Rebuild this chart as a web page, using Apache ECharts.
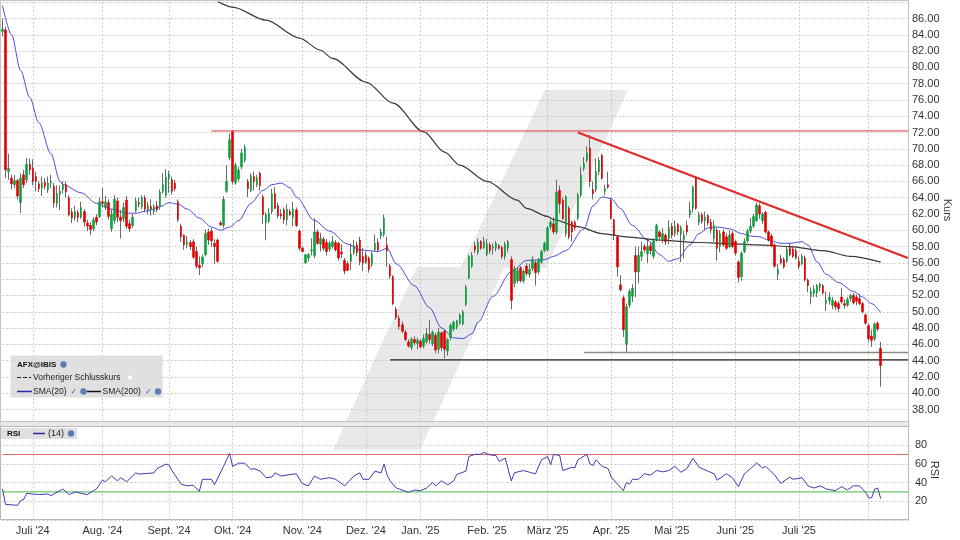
<!DOCTYPE html>
<html><head><meta charset="utf-8">
<script src="https://cdn.jsdelivr.net/npm/echarts@6/dist/echarts.min.js"></script>
<style>html,body{margin:0;padding:0;background:#fff}#c{width:960px;height:540px}</style>
</head><body><div id="c"></div>
<script>
// ---------- DATA ----------
const openP = [
84.4,84.6,67.2,66.4,65.6,66.1,63.4,66.8,66.2,68.1,
67.6,66.6,65.7,65.2,65.9,65.0,65.8,65.4,63.3,64.4,
65.0,65.6,64.0,62.2,61.6,62.2,61.6,62.3,60.9,60.6,
60.2,61.6,61.7,63.5,62.8,63.4,60.2,61.2,63.6,61.6,
61.4,63.7,60.8,60.6,62.4,63.4,62.9,64.0,62.5,62.9,
62.3,63.0,62.9,64.8,64.3,66.4,66.2,65.8,63.5,60.5,
59.4,58.3,58.5,58.6,57.4,55.7,55.9,57.0,59.8,59.9,
58.4,58.8,60.9,60.6,64.8,68.9,72.1,65.8,66.3,67.8,
68.6,66.0,64.9,66.6,65.6,67.0,64.1,61.0,61.1,62.3,
64.5,63.0,62.0,62.5,61.3,62.3,61.6,62.5,59.9,57.8,
56.0,56.6,57.5,56.9,59.8,58.3,58.9,58.5,57.7,58.0,
58.5,58.4,57.3,56.3,55.9,56.2,57.2,58.2,58.8,56.8,
56.9,56.6,55.8,57.6,58.5,59.3,59.5,58.2,55.6,54.3,
50.3,49.2,48.4,47.5,46.3,45.6,46.6,46.1,46.4,45.8,
46.3,47.2,46.1,47.1,45.4,47.4,47.6,45.2,46.8,47.9,
48.1,48.6,48.5,50.9,54.1,55.6,58.1,57.3,58.6,57.9,
57.1,58.2,57.8,57.8,58.1,57.9,56.8,57.8,56.4,53.5,
53.8,55.4,53.8,55.6,54.6,55.3,56.0,54.9,56.1,57.5,
57.6,60.4,60.8,59.8,64.9,63.7,59.6,62.7,61.0,61.0,
61.5,64.3,67.6,68.6,70.1,65.0,65.0,67.2,69.2,64.8,
65.6,63.7,61.3,59.2,53.3,51.7,46.0,50.8,51.9,56.9,
54.9,56.8,58.0,57.1,58.1,56.8,58.8,59.8,58.8,59.4,
59.0,60.5,59.6,60.7,59.5,58.8,60.6,61.9,62.7,66.4,
61.0,61.9,61.2,61.8,61.0,59.0,60.0,58.0,59.8,59.2,
58.0,59.6,58.6,56.1,54.3,57.4,58.7,59.9,60.5,61.2,
63.0,61.2,62.2,59.8,59.3,58.2,54.6,56.5,56.4,56.2,
58.0,57.7,57.5,56.2,55.9,56.6,53.9,51.9,52.2,52.3,
53.0,53.2,51.0,51.4,50.8,51.2,51.0,51.8,51.0,50.8,
51.6,52.0,51.8,51.6,51.0,49.6,48.3,47.0,46.7,48.6,
45.5];
const highP = [
86.0,85.0,69.4,66.8,66.8,66.3,67.0,67.4,68.9,68.8,
68.7,67.2,66.0,66.6,66.4,66.6,66.8,65.8,65.5,65.5,
66.0,66.0,64.3,62.7,63.0,62.5,63.5,62.6,61.3,61.0,
61.6,62.0,64.0,65.2,64.2,63.8,62.6,64.3,64.0,62.5,
63.4,64.2,61.3,62.0,64.0,64.0,64.3,64.3,63.5,63.8,
63.2,63.6,65.0,67.0,67.5,67.3,66.6,66.2,63.8,60.8,
59.5,59.3,58.8,58.9,58.0,56.8,57.0,60.1,60.2,60.3,
58.9,59.0,61.2,64.2,68.0,71.9,72.3,68.3,67.8,70.0,
70.5,66.3,67.0,67.2,66.8,67.2,64.4,62.2,62.7,65.1,
65.3,63.4,62.6,62.8,63.2,62.6,63.5,62.8,60.1,58.0,
57.1,57.2,59.0,61.5,60.1,59.7,59.2,58.9,58.7,59.3,
58.8,58.6,58.3,56.6,56.2,58.4,58.8,58.6,59.2,57.8,
57.4,56.8,57.4,59.5,59.0,60.2,61.9,59.2,55.9,54.5,
50.6,49.6,48.8,47.8,46.6,46.9,47.0,46.8,46.6,47.2,
48.0,49.0,47.7,47.4,48.0,47.6,47.9,46.8,48.6,48.9,
49.0,49.8,50.2,53.3,57.0,57.3,58.6,59.0,58.8,59.2,
58.9,58.5,58.4,58.7,58.3,58.1,58.6,58.8,56.8,55.6,
55.4,55.6,55.2,56.0,55.9,56.8,56.3,56.6,57.6,58.6,
60.5,61.3,61.6,66.2,65.5,64.0,64.3,63.0,61.2,61.3,
64.6,67.8,69.0,70.3,71.7,66.0,68.8,69.0,69.4,65.6,
67.2,64.0,61.4,59.3,54.5,52.0,51.0,52.8,53.4,58.0,
58.0,58.6,58.3,59.0,58.6,59.0,60.8,60.0,60.3,59.6,
61.2,60.9,61.2,60.9,60.6,59.9,61.2,63.5,65.5,66.6,
62.3,62.2,62.3,62.0,61.4,61.2,60.3,60.0,60.1,59.6,
60.0,59.9,58.8,56.3,57.4,59.0,60.2,61.5,62.0,63.4,
63.3,62.2,62.4,60.0,59.6,58.4,55.9,57.0,56.7,58.0,
58.4,58.0,57.8,56.8,57.1,56.9,54.1,53.0,53.2,53.4,
53.6,53.4,52.5,52.4,51.8,51.4,51.3,52.9,51.5,51.8,
52.2,52.3,52.1,52.2,51.2,49.8,48.5,47.8,48.7,48.8,
46.3];
const lowP = [
83.8,66.4,66.2,65.0,65.2,63.8,62.1,65.2,65.8,66.8,
65.5,64.8,64.7,64.2,65.0,64.6,65.2,62.8,62.8,62.5,
64.5,64.0,61.7,60.9,61.2,61.0,61.4,60.5,59.9,59.4,
59.9,60.6,61.5,62.8,62.5,61.3,59.8,60.8,61.0,59.0,
61.0,60.2,59.8,60.3,62.2,62.8,62.6,62.2,62.0,61.8,
61.9,62.2,62.5,64.5,64.0,64.6,64.4,64.8,61.0,58.6,
57.6,57.8,57.6,56.5,55.3,54.5,55.5,56.8,58.2,58.0,
55.9,56.0,60.5,60.3,64.6,68.6,65.6,65.6,66.0,67.5,
68.3,64.1,64.7,64.9,65.3,64.9,60.8,58.8,60.9,62.0,
62.6,61.5,61.4,60.8,60.6,61.8,60.5,60.4,57.5,57.3,
55.9,56.2,56.9,56.6,58.2,57.4,57.5,56.9,57.4,57.8,
57.4,56.3,56.6,54.6,55.0,55.1,57.0,56.8,55.7,55.0,
55.9,54.8,55.5,57.4,57.3,58.9,59.2,55.5,54.0,50.8,
49.0,47.8,47.4,46.4,45.6,45.3,45.9,45.4,45.5,45.5,
46.1,46.1,45.8,44.9,44.9,45.2,44.3,44.6,46.5,47.6,
47.8,48.4,48.3,50.7,54.0,55.4,57.2,57.0,57.6,57.7,
56.8,57.1,57.0,57.4,57.6,56.5,56.4,57.3,50.3,53.0,
53.5,53.6,53.5,54.4,54.2,55.0,53.2,54.6,55.9,57.3,
57.4,60.1,59.5,59.5,62.1,61.3,59.2,58.9,58.6,60.0,
61.2,64.0,67.3,68.3,65.3,63.8,64.7,66.8,66.2,64.3,
65.1,61.3,58.8,54.3,52.5,46.9,44.9,50.5,51.2,51.8,
53.5,56.2,57.3,56.0,57.0,56.5,58.6,58.9,58.4,58.2,
58.3,59.0,59.2,59.4,56.1,56.5,59.4,61.5,62.2,62.5,
60.6,60.8,60.0,60.6,59.6,58.6,56.3,57.3,58.0,57.6,
57.8,57.8,56.9,53.6,53.8,57.2,58.5,59.6,60.3,61.0,
61.4,60.8,59.6,58.6,57.9,55.4,53.9,55.8,55.3,56.0,
56.8,56.6,56.4,55.2,55.7,53.7,52.4,50.9,51.8,51.8,
52.5,52.1,50.1,50.9,50.3,50.2,50.0,51.0,50.4,50.6,
51.3,50.9,50.8,50.8,49.8,48.4,46.3,45.7,46.4,47.6,
40.8];
const closeP = [
84.7,67.4,67.6,65.7,66.1,64.2,66.4,65.6,68.1,67.4,
66.0,66.0,65.1,65.8,65.4,65.8,66.0,63.4,64.5,64.8,
65.6,64.7,61.9,61.5,62.3,61.6,62.8,61.0,60.5,60.1,
61.3,61.0,63.5,63.3,63.5,61.7,62.0,63.8,61.6,61.2,
62.8,60.5,60.2,61.6,63.6,63.2,64.0,62.6,63.0,62.6,
62.9,62.5,64.7,65.6,66.5,66.9,64.8,65.1,61.3,59.2,
58.2,58.6,58.0,56.7,55.6,55.4,56.7,59.6,58.8,58.7,
58.0,56.2,60.7,63.8,66.0,71.1,66.0,68.0,67.4,69.5,
70.2,65.1,66.7,66.0,66.4,65.5,61.9,61.9,62.1,64.5,
62.7,61.8,61.8,61.3,62.6,61.9,62.6,60.6,57.8,57.4,
57.0,57.0,57.6,59.8,58.4,59.0,57.8,57.4,58.4,58.6,
57.6,56.6,57.1,55.0,55.1,57.1,58.1,57.3,56.1,56.0,
56.1,55.2,57.1,58.4,57.6,59.8,61.5,57.5,54.4,51.0,
49.3,48.2,47.6,46.6,45.8,46.6,46.2,46.5,45.7,46.7,
47.3,46.6,47.5,45.3,47.5,45.6,45.4,46.6,48.3,48.7,
48.9,49.6,50.0,53.0,56.8,56.9,57.6,58.5,57.8,58.6,
58.3,57.5,58.0,58.4,57.8,56.8,58.3,58.6,51.4,55.3,
55.1,53.8,55.0,54.7,55.2,56.4,54.8,56.3,57.4,58.4,
60.3,61.0,59.8,64.7,63.3,61.4,64.1,59.2,59.8,60.3,
64.3,66.8,68.2,69.5,66.0,64.5,67.2,68.6,66.4,65.1,
65.3,61.5,59.4,55.5,52.7,47.8,50.6,52.5,52.9,54.9,
56.9,57.4,57.6,58.0,57.5,58.7,60.6,59.2,59.6,58.6,
60.3,59.4,60.5,59.8,60.3,59.4,59.8,62.5,65.3,62.7,
61.9,61.1,61.6,60.9,60.1,60.6,57.8,59.6,58.2,57.8,
59.4,58.0,57.2,54.2,57.2,58.6,59.9,60.5,61.7,63.1,
62.0,62.0,59.8,58.8,58.1,55.6,55.2,56.0,55.5,57.7,
57.0,56.8,56.6,55.6,56.8,53.9,53.2,52.5,52.8,53.2,
53.4,52.3,51.4,51.8,51.4,50.6,50.4,51.2,50.8,51.5,
52.0,51.1,51.3,51.0,50.0,48.6,46.7,46.5,48.5,47.9,
43.4];

// moving averages: [trading-day index, value]
const sma20 = [[0,87.6],[3,84.0],[6,79.6],[9,76.3],[12,73.2],[16,69.4],[19,66.0],[20,65.6],[26,64.6],[31,63.3],[36,62.6],[41,62.1],[44,62.1],[48,62.4],[52,62.9],[55,63.4],[58,63.2],[61,62.6],[65,61.5],[69,60.4],[72,60.0],[75,60.4],[78,61.2],[82,63.3],[86,64.9],[89,65.6],[92,65.8],[95,65.2],[97,64.1],[103,61.2],[108,59.9],[114,58.3],[118,57.6],[124,57.4],[127,57.8],[130,55.9],[136,53.2],[141,50.5],[145,48.0],[149,46.8],[152,46.7],[155,47.3],[157,48.7],[162,51.9],[168,54.9],[173,56.3],[179,56.4],[182,56.8],[186,57.5],[192,60.2],[195,63.0],[198,64.1],[201,63.9],[204,62.7],[208,60.6],[213,58.8],[217,57.0],[220,56.2],[223,56.5],[227,58.2],[230,59.6],[233,60.3],[236,60.4],[240,60.2],[244,59.6],[247,59.3],[250,59.2],[253,58.8],[257,58.4],[260,58.4],[264,58.6],[266,58.2],[269,56.1],[272,54.6],[276,53.6],[281,52.5],[284,51.8],[287,51.0],[290,49.9]];
const sma200 = [[71,88.1],[76,87.4],[87,85.8],[98,83.6],[105,82.1],[109,81.1],[120,78.2],[129,75.6],[139,72.1],[146,69.6],[151,68.0],[160,66.0],[170,63.7],[173,62.7],[180,61.7],[182,61.3],[190,60.45],[198,59.6],[206,59.2],[217,58.8],[230,58.5],[238,58.4],[249,58.2],[260,58.0],[271,57.5],[280,56.8],[290,56.1]];
const rsi14 = [[0,33.0],[1,16.5],[5,15.5],[6,20.7],[7,21.8],[8,28.4],[10,27.6],[12,27.0],[15,27.6],[16,25.9],[20,33.0],[22,27.0],[24,29.8],[28,27.0],[31,33.0],[33,42.4],[34,40.8],[36,46.9],[38,41.7],[39,45.2],[41,40.8],[44,50.3],[45,49.0],[48,49.7],[50,50.3],[51,54.9],[54,59.7],[55,58.7],[56,52.5],[59,38.2],[61,36.4],[63,37.1],[65,30.5],[66,43.4],[69,43.4],[70,37.6],[73,57.3],[75,71.2],[76,57.3],[78,60.7],[80,60.7],[82,53.9],[83,54.9],[85,52.5],[87,45.2],[89,45.9],[90,50.3],[92,46.9],[95,48.6],[97,49.3],[99,38.8],[101,36.4],[103,46.9],[105,43.4],[108,45.2],[110,43.4],[113,36.4],[116,46.9],[118,50.3],[119,43.4],[121,43.4],[123,52.1],[125,50.3],[126,59.7],[127,48.0],[128,41.7],[130,34.0],[131,33.0],[134,29.4],[136,31.9],[138,31.2],[140,34.0],[142,39.9],[143,36.4],[145,41.7],[147,37.6],[149,41.7],[150,48.6],[153,52.1],[154,67.8],[156,70.2],[158,70.2],[159,72.3],[161,69.5],[163,68.8],[164,62.6],[166,66.1],[168,41.6],[169,50.3],[172,52.8],[174,51.0],[176,49.3],[178,64.3],[180,67.8],[181,59.1],[182,70.2],[184,68.8],[185,52.8],[188,56.3],[189,55.6],[190,64.3],[193,70.2],[194,59.7],[195,58.3],[196,64.3],[198,57.3],[200,54.9],[201,45.8],[205,31.2],[206,39.9],[207,38.2],[208,43.4],[210,43.4],[212,49.3],[214,47.9],[216,52.8],[218,51.4],[220,52.8],[222,57.3],[224,51.0],[226,54.9],[228,66.0],[230,56.3],[231,54.9],[233,52.1],[235,49.3],[236,42.4],[239,49.3],[241,45.2],[243,35.5],[245,49.3],[247,54.9],[249,60.8],[251,55.6],[252,57.3],[255,47.9],[257,39.0],[260,45.9],[261,43.4],[264,45.2],[266,36.4],[268,34.0],[270,36.4],[272,33.0],[275,31.2],[277,35.5],[279,32.0],[281,36.4],[283,36.4],[285,29.4],[286,23.6],[287,23.6],[288,33.0],[289,34.0],[290,22.6]];

// drawn lines (endpoints: [index, price])
const resistance72 = [[69,72.2],[299,72.2]];
const trendLine = [[190,72.0],[299,56.6]];
const support44 = [[128,44.1],[299,44.1]];
const support45 = [[192,45.0],[299,45.0]];
const rsiUpper = [[0,70],[299,70]];
const rsiLower = [[0,30],[299,30]];

// x axis: month starts (trading-day index) and their labels
const monthIdx = [10,33,55,76,99,120,138,160,180,201,221,242,263,286];
const monthLabels = ["Juli '24","Aug. '24","Sept. '24","Okt. '24","Nov. '24","Dez. '24","Jan. '25","Feb. '25","März '25","Apr. '25","Mai '25","Juni '25","Juli '25",""];
const slotCount = 300;

// ---------- CHART ----------
const cats = Array.from({length: slotCount}, (_, i) => String(i));
const ohlc = openP.map((o, i) => [o, closeP[i], lowP[i], highP[i]]);
const bodies = openP.map((o, i) => [o, closeP[i], Math.min(o, closeP[i]), Math.max(o, closeP[i])]);
const FONT = '"Liberation Sans", Arial, sans-serif';
const isMonth = (i) => monthIdx.indexOf(i) >= 0;
const gridLine = {color: '#c9c9c9', type: [2, 2], width: 1};

function xAx(gi, showLabels) {
  return {
    type: 'category', gridIndex: gi, data: cats, boundaryGap: false,
    axisLine: {show: false}, axisTick: {show: false},
    axisLabel: showLabels ? {
      show: true, interval: (i) => isMonth(i),
      formatter: (v, i) => { const k = monthIdx.indexOf(i); return k >= 0 ? monthLabels[k] : ''; },
      color: '#333', fontSize: 11, fontFamily: FONT, margin: 6
    } : {show: false},
    splitLine: {show: true, interval: (i) => isMonth(i), lineStyle: gridLine}
  };
}

const lineS = (data, color, width, xi, yi, extra) => Object.assign({
  type: 'line', data: data, xAxisIndex: xi, yAxisIndex: yi, symbol: 'none',
  lineStyle: {color: color, width: width}, itemStyle: {color: color},
  silent: true, animation: false, z: 3
}, extra || {});

const chart = echarts.init(document.getElementById('c'), null, {renderer: 'canvas'});
const option = {
  animation: false,
  backgroundColor: '#fff',
  grid: [
    {left: 2.5, top: 2.2, width: 905.5, height: 423.6},
    {left: 2.5, top: 426.5, width: 905.5, height: 93.3}
  ],
  xAxis: [xAx(0, false), xAx(1, true)],
  yAxis: [
    {type: 'value', gridIndex: 0, position: 'right', min: 36, max: 88, interval: 2,
     axisLine: {show: true, lineStyle: {color: '#a0a0a0'}}, axisTick: {show: false},
     axisLabel: {formatter: (v) => (v < 38 || v > 86) ? '' : v.toFixed(2), color: '#333', fontSize: 11, fontFamily: FONT, margin: 4},
     splitLine: {show: true, lineStyle: gridLine}},
    {type: 'value', gridIndex: 1, position: 'right', min: 0, max: 100, interval: 20,
     axisLine: {show: true, lineStyle: {color: '#a0a0a0'}}, axisTick: {show: false},
     axisLabel: {formatter: (v) => (v === 0 || v === 100) ? '' : String(v), color: '#333', fontSize: 11, fontFamily: FONT, margin: 7},
     splitLine: {show: true, lineStyle: gridLine}}
  ],
  series: [
    {type: 'candlestick', name: 'wick', data: ohlc, xAxisIndex: 0, yAxisIndex: 0, barWidth: 1,
     itemStyle: {color: '#6a6a6a', color0: '#6a6a6a', borderColor: '#6a6a6a', borderColor0: '#6a6a6a', borderWidth: 1}, z: 2, silent: true},
    {type: 'candlestick', name: 'body', data: bodies, xAxisIndex: 0, yAxisIndex: 0, barWidth: 2,
     itemStyle: {color: '#10a040', color0: '#e00000', borderColor: '#10a040', borderColor0: '#e00000', borderWidth: 0.6}, z: 3, silent: true},
    lineS(sma20, '#4b4bd8', 1, 0, 0, {smooth: 0.3, smoothMonotone: 'x'}),
    lineS(sma200, '#3a3a3a', 1.2, 0, 0, {smooth: 0.3, smoothMonotone: 'x'}),
    lineS(resistance72, '#e03a3a', 1, 0, 0),
    lineS(trendLine, '#e02a2a', 2.2, 0, 0),
    lineS(support45, '#8a8a8a', 1.5, 0, 0),
    lineS(support44, '#222222', 1.2, 0, 0),
    lineS(rsiUpper, '#e86a6a', 1.2, 1, 1),
    lineS(rsiLower, '#6cc46c', 1.2, 1, 1),
    lineS(rsi14, '#3c3cb4', 1, 1, 1)
  ],
  graphic: [
    // watermark
    {type: 'polygon', z: -5, silent: true,
     shape: {points: [[545,90],[628,90],[546,268],[504,268],[420,450],[333,450],[417,267],[461,267]]},
     style: {fill: '#e9e9e9'}},
    // panel frames and separator
    {type: 'rect', z: 50, silent: true, shape: {x: 0.5, y: 0.5, width: 908, height: 421}, style: {fill: 'none', stroke: '#c4c4c4', lineWidth: 1}},
    {type: 'rect', z: 50, silent: true, shape: {x: 0, y: 421.5, width: 909, height: 5}, style: {fill: '#e9e9e9', stroke: '#c4c4c4', lineWidth: 1}},
    {type: 'rect', z: 50, silent: true, shape: {x: 0.5, y: 426.5, width: 908, height: 93}, style: {fill: 'none', stroke: '#b8b8b8', lineWidth: 1}},
    // axis names
    {type: 'text', z: 50, x: 947, y: 210, rotation: -Math.PI / 2, style: {text: 'Kurs', fill: '#333', font: '11px ' + FONT, align: 'center', verticalAlign: 'middle'}},
    {type: 'text', z: 50, x: 934, y: 470, rotation: -Math.PI / 2, style: {text: 'RSI', fill: '#333', font: '11px ' + FONT, align: 'center', verticalAlign: 'middle'}},
    // main legend box
    {type: 'rect', z: 60, shape: {x: 10.5, y: 355.5, width: 152, height: 42}, style: {fill: 'rgba(218,218,218,0.85)', stroke: 'none'}},
    {type: 'text', z: 61, x: 17, y: 364.5, style: {text: 'AFX@IBIS', fill: '#111', font: 'bold 8px ' + FONT, verticalAlign: 'middle'}},
    {type: 'circle', z: 61, shape: {cx: 63.5, cy: 364.5, r: 3.2}, style: {fill: '#5a7fb0'}},
    {type: 'line', z: 61, shape: {x1: 17, y1: 377.5, x2: 31, y2: 377.5}, style: {stroke: '#222', lineWidth: 1.2, lineDash: [4, 2]}},
    {type: 'text', z: 61, x: 33, y: 377.5, style: {text: 'Vorheriger Schlusskurs', fill: '#222', font: '8.5px ' + FONT, verticalAlign: 'middle'}},
    {type: 'rect', z: 61, shape: {x: 127.5, y: 375, width: 5, height: 5}, style: {fill: '#fff', stroke: '#ddd'}},
    {type: 'line', z: 61, shape: {x1: 17, y1: 391.5, x2: 32, y2: 391.5}, style: {stroke: '#2a2aa0', lineWidth: 1.5}},
    {type: 'text', z: 61, x: 33, y: 391.5, style: {text: 'SMA(20)', fill: '#222', font: '8.5px ' + FONT, verticalAlign: 'middle'}},
    {type: 'text', z: 61, x: 70.5, y: 391.5, style: {text: '✓', fill: '#2f62c8', font: '8px "DejaVu Sans"', verticalAlign: 'middle'}},
    {type: 'circle', z: 61, shape: {cx: 83.5, cy: 391.5, r: 3.2}, style: {fill: '#5a7fb0'}},
    {type: 'line', z: 61, shape: {x1: 87, y1: 391.5, x2: 101, y2: 391.5}, style: {stroke: '#111', lineWidth: 1.5}},
    {type: 'text', z: 61, x: 102.5, y: 391.5, style: {text: 'SMA(200)', fill: '#222', font: '8.5px ' + FONT, verticalAlign: 'middle'}},
    {type: 'text', z: 61, x: 145, y: 391.5, style: {text: '✓', fill: '#2f62c8', font: '8px "DejaVu Sans"', verticalAlign: 'middle'}},
    {type: 'circle', z: 61, shape: {cx: 158, cy: 391.5, r: 3.2}, style: {fill: '#5a7fb0'}},
    // RSI legend box
    {type: 'rect', z: 60, shape: {x: 1, y: 428, width: 76, height: 11}, style: {fill: 'rgba(218,218,218,0.85)'}},
    {type: 'text', z: 61, x: 7, y: 433.8, style: {text: 'RSI', fill: '#111', font: 'bold 8px ' + FONT, verticalAlign: 'middle'}},
    {type: 'line', z: 61, shape: {x1: 33, y1: 433.5, x2: 45, y2: 433.5}, style: {stroke: '#2a2aa0', lineWidth: 1.5}},
    {type: 'text', z: 61, x: 48, y: 433.8, style: {text: '(14)', fill: '#222', font: '9px ' + FONT, verticalAlign: 'middle'}},
    {type: 'circle', z: 61, shape: {cx: 71, cy: 433.5, r: 3.2}, style: {fill: '#5a7fb0'}}
  ]
};
chart.setOption(option);
</script>
</body></html>
